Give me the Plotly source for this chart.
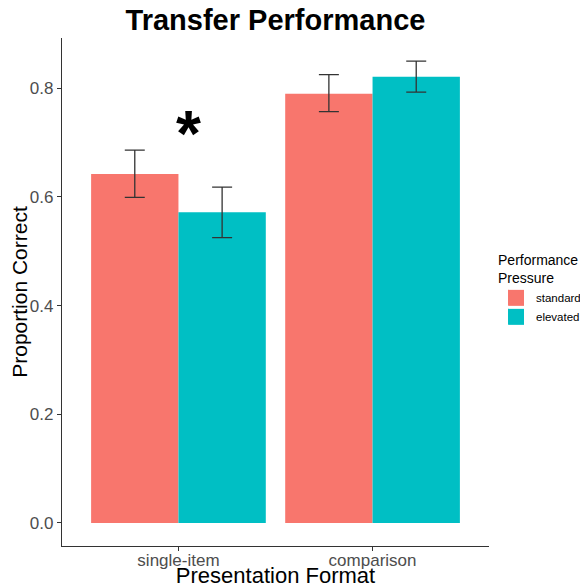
import plotly.graph_objects as go

categories = ["single-item", "comparison"]
groups = ["standard", "elevated"]
colors = ["#F8766D", "#00BFC4"]
values_standard = [0.642, 0.790]
values_elevated = [0.572, 0.821]
err_hi_standard = [0.686, 0.825]
err_lo_standard = [0.599, 0.757]
err_hi_elevated = [0.618, 0.850]
err_lo_elevated = [0.525, 0.793]
y_ticks = [0.0, 0.2, 0.4, 0.6, 0.8]

series = [
    (groups[0], values_standard, err_hi_standard, err_lo_standard, colors[0]),
    (groups[1], values_elevated, err_hi_elevated, err_lo_elevated, colors[1]),
]

fig = go.Figure()
for name, vals, hi, lo, col in series:
    fig.add_trace(go.Bar(
        x=categories, y=vals, name=name, marker_color=col, marker_line_width=0,
        showlegend=False,
        error_y=dict(type="data", symmetric=False,
                     array=[h - v for h, v in zip(hi, vals)],
                     arrayminus=[v - l for v, l in zip(vals, lo)],
                     color="#333333", thickness=1.3, width=10),
    ))
    fig.add_trace(go.Scatter(
        x=[None], y=[None], mode="markers", name=name,
        marker=dict(symbol="square", size=19, color=col),
    ))

fig.add_annotation(x=0.05, y=0.73, xref="x", yref="y", text="<b>*</b>",
                   showarrow=False, font=dict(size=64, color="black"),
                   xshift=0, yshift=-8)

axis_font = dict(family="Liberation Sans, Arial", size=17, color="#4D4D4D")
fig.update_layout(
    width=580, height=580,
    margin=dict(l=54, r=99, t=30, b=42),
    paper_bgcolor="white", plot_bgcolor="white",
    barmode="group", bargap=0.1, bargroupgap=0,
    font=dict(family="Liberation Sans, Arial", color="black"),
    title=dict(text="<b>Transfer Performance</b>", x=0.5, xref="paper", xanchor="center",
               y=0.979, yref="container", yanchor="middle",
               font=dict(size=29, color="black")),
    xaxis=dict(range=[-0.6, 1.6], showline=True, linecolor="#333333", linewidth=1.3,
               ticks="outside", ticklen=4, tickcolor="#333333", tickfont=axis_font,
               ticklabelstandoff=-6,
               title=dict(text="Presentation Format", font=dict(size=22, color="black"),
                          standoff=4),
               showgrid=False, zeroline=False, automargin=False),
    yaxis=dict(range=[-0.0425, 0.8925], showline=True, linecolor="#333333", linewidth=1.3,
               ticks="outside", ticklen=4, tickcolor="#333333", tickfont=axis_font,
               tickvals=y_ticks, ticktext=[f"{t:.1f}" for t in y_ticks],
               title=dict(text="Proportion Correct", font=dict(size=21, color="black"),
                          standoff=0),
               showgrid=False, zeroline=False, automargin=False),
    legend=dict(x=0.8414, xref="container", y=0.505, xanchor="left", yanchor="middle",
                title=dict(text="Performance<br>Pressure", font=dict(size=14, color="black")),
                font=dict(size=11.5, color="black"), itemsizing="trace",
                tracegroupgap=0),
)

fig.write_html("out.html")
